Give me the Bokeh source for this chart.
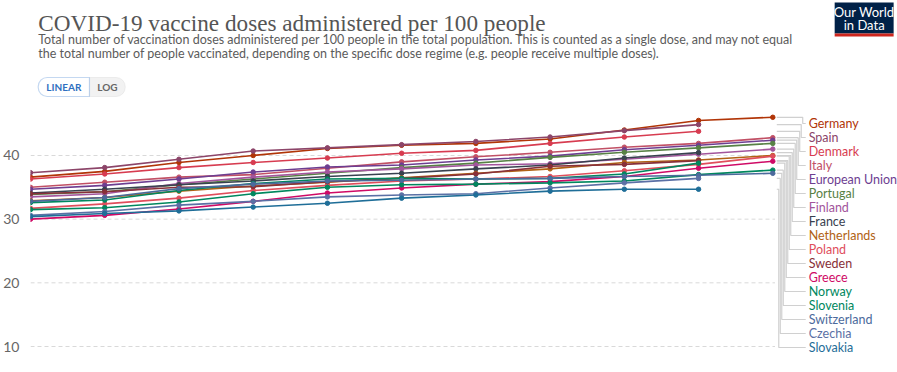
from bokeh.plotting import figure
from bokeh.layouts import column
from bokeh.models import Label, BoxAnnotation, FixedTicker, Range1d, ColumnDataSource
from bokeh.core.properties import value
from bokeh.embed import file_html
from bokeh.resources import INLINE

# ---------------- data ----------------
days = [0, 1, 2, 3, 4, 5, 6, 7, 8, 9, 10]
countries = ["Germany", "Spain", "Denmark", "Italy", "European Union", "Portugal",
             "Finland", "France", "Netherlands", "Poland", "Sweden", "Greece",
             "Norway", "Slovenia", "Switzerland", "Czechia", "Slovakia"]
germany = [36.6, 37.5, 38.9, 40.0, 41.1, 41.6, 41.9, 42.6, 44.0, 45.5, 46.0]
spain = [37.3, 38.1, 39.4, 40.7, 41.2, 41.7, 42.2, 42.9, 43.9, 44.85]
denmark = [36.3, 37.1, 38.1, 38.9, 39.6, 40.35, 40.8, 41.9, 42.9, 43.8]
italy = [35.0, 35.8, 36.6, 37.0, 38.0, 39.0, 39.8, 40.5, 41.3, 41.9, 42.8]
eu = [34.7, 35.3, 36.3, 37.4, 38.2, 38.5, 39.3, 39.9, 40.9, 41.6, 42.4]
portugal = [33.9, 34.3, 35.4, 36.3, 37.2, 38.1, 38.8, 39.7, 40.5, 41.2, 41.9]
finland = [33.5, 34.0, 35.6, 36.6, 37.4, 37.9, 38.5, 38.7, 39.4, 40.2, 41.0]
france = [34.1, 34.7, 35.4, 36.0, 36.7, 37.2, 37.9, 38.5, 39.6, 40.45]
netherlands = [32.9, 33.4, 34.4, 35.2, 35.8, 36.5, 37.2, 37.9, 38.9, 39.3, 40.0]
poland = [31.7, 32.4, 33.3, 34.5, 35.3, 36.0, 36.3, 36.7, 37.6, 38.6, 39.9]
sweden = [34.0, 34.3, 35.0, 35.1, 35.9, 36.4, 37.1, 38.3, 38.6, 39.2]
greece = [30.0, 30.6, 31.6, 32.8, 34.1, 34.9, 35.5, 35.9, 36.7, 38.0, 39.1]
norway = [32.6, 33.0, 34.5, 35.6, 36.3, 36.4, 36.3, 36.4, 37.1, 38.8]
slovenia = [31.5, 31.8, 32.7, 34.0, 35.0, 35.4, 35.5, 35.7, 36.0, 37.0, 37.7]
switzerland = [32.8, 33.4, 34.8, 35.5, 36.0, 36.1, 36.3, 36.4, 36.7, 36.9, 37.2]
czechia = [30.6, 31.2, 32.2, 32.8, 33.5, 33.8, 34.0, 34.9, 35.7, 36.4]
slovakia = [30.4, 30.9, 31.3, 31.9, 32.5, 33.3, 33.8, 34.4, 34.7, 34.7]
y_ticks = [10, 20, 30, 40]

series = [germany, spain, denmark, italy, eu, portugal, finland, france, netherlands,
          poland, sweden, greece, norway, slovenia, switzerland, czechia, slovakia]
colors = ["#B13507", "#8C4569", "#D73C50", "#C15065", "#6D3E91", "#578145",
          "#A2559C", "#38414F", "#B16214", "#E04E5C", "#883039", "#CF0A66",
          "#00875E", "#00875E", "#4C6A9C", "#5B70A5", "#1F6E98"]

TITLE = "COVID-19 vaccine doses administered per 100 people"
SUB1 = ("Total number of vaccination doses administered per 100 people in the total "
        "population. This is counted as a single dose, and may not equal")
SUB2 = ("the total number of people vaccinated, depending on the specific dose regime "
        "(e.g. people receive multiple doses).")

W = 897
HEAD_H = 106
CHART_H = 372 - HEAD_H

# ---------------- header (page-pixel coordinates) ----------------
hd = figure(width=W, height=HEAD_H, output_backend="svg", toolbar_location=None,
            x_range=Range1d(0, W), y_range=Range1d(HEAD_H, 0),
            x_axis_location=None, y_axis_location=None,
            min_border=0)
hd.outline_line_color = None
hd.xgrid.visible = False
hd.ygrid.visible = False

hd.add_layout(Label(x=8, y=22, text=TITLE, text_font="Liberation Serif",
                    text_font_size="23.2px", text_color="#555555",
                    text_baseline="alphabetic"))
hd.add_layout(Label(x=8, y=38.5, text=SUB1, text_font="Lato", text_font_size="12.5px",
                    text_color="#5b5b5b", text_baseline="alphabetic"))
hd.add_layout(Label(x=8, y=52.5, text=SUB2, text_font="Lato", text_font_size="12.5px",
                    text_color="#5b5b5b", text_baseline="alphabetic"))

hd.add_layout(BoxAnnotation(left=61, right=98, top=77, bottom=96,
                            fill_color="#f2f2f2", fill_alpha=1, line_color="#cccccc",
                            line_width=1, border_radius=(0, 9, 9, 0)))
hd.add_layout(BoxAnnotation(left=8, right=61, top=77, bottom=96,
                            fill_color="white", fill_alpha=1, line_color="#3d7fd1",
                            line_width=1.2, border_radius=(9, 0, 0, 9)))
hd.add_layout(Label(x=34.5, y=86.5, text="LINEAR", text_font="Lato",
                    text_font_size="10px", text_font_style="bold", text_color="#2f6fc0",
                    text_align="center", text_baseline="middle"))
hd.add_layout(Label(x=79.5, y=86.5, text="LOG", text_font="Lato",
                    text_font_size="10px", text_font_style="bold", text_color="#666666",
                    text_align="center", text_baseline="middle"))

hd.add_layout(BoxAnnotation(left=832, right=893, top=2, bottom=33,
                            fill_color="#002147", fill_alpha=1, line_color=None))
hd.add_layout(BoxAnnotation(left=832, right=893, top=33, bottom=36,
                            fill_color="#CE261E", fill_alpha=1, line_color=None))
hd.add_layout(Label(x=862.5, y=11, text="Our World", text_font="Lato",
                    text_font_size="13px", text_color="white", text_align="center",
                    text_baseline="middle"))
hd.add_layout(Label(x=862.5, y=24.5, text="in Data", text_font="Lato",
                    text_font_size="13px", text_color="white", text_align="center",
                    text_baseline="middle"))

# ---------------- chart ----------------
X0, DX = 28.0, 74.4        # page x of first day, px per day
Y10, PPU = 346.0, 6.367    # page y of value 10, px per unit


def fx(px):
    return (px - X0) / DX


def fy(py):
    return 10 + (Y10 - py) / PPU


p = figure(width=W, height=CHART_H, output_backend="svg", toolbar_location=None,
           x_range=Range1d(fx(28), fx(W)), y_range=Range1d(fy(372), fy(HEAD_H)),
           x_axis_location=None, min_border_left=28, min_border_right=0,
           min_border_top=0, min_border_bottom=0)
p.outline_line_color = None
p.xgrid.visible = False
p.ygrid.visible = False

ax = p.yaxis[0]
ax.ticker = FixedTicker(ticks=y_ticks)
ax.axis_line_color = None
ax.major_tick_line_color = None
ax.minor_tick_line_color = None
ax.major_label_text_font = "Lato"
ax.major_label_text_font_size = "14px"
ax.major_label_text_color = "#666666"
ax.major_label_standoff = 5

# gridlines
p.segment(x0=[days[0]] * len(y_ticks), x1=[days[-1] + 0.03] * len(y_ticks),
          y0=y_ticks, y1=y_ticks, line_color="#d9d9d9", line_width=1,
          line_dash="4 3")

# leader lines
for i, vals in enumerate(series):
    ylab = fy(123 + 14 * i)
    xv = fx(802 - 1.5 * i)
    p.line([fx(776), xv, xv, fx(805)], [vals[-1], vals[-1], ylab, ylab],
           line_color="#d0d0d0", line_width=1.2)

# series
for vals, c in zip(series, colors):
    xs = days[:len(vals)]
    p.line(xs, vals, line_color=c, line_width=1.6)
    p.scatter(xs, vals, size=4.5, fill_color=c, line_color=c)

# right labels
lab_src = ColumnDataSource(dict(
    x=[fx(808)] * len(countries),
    y=[fy(123 + 14 * i) for i in range(len(countries))],
    text=countries, color=colors))
p.text(x="x", y="y", text="text", source=lab_src, text_color="color",
       text_font=value("Lato"), text_font_size="12.5px", text_baseline="middle",
       text_align="left")

layout = column(hd, p, spacing=0)
open("out.html", "w").write(file_html(layout, INLINE))
